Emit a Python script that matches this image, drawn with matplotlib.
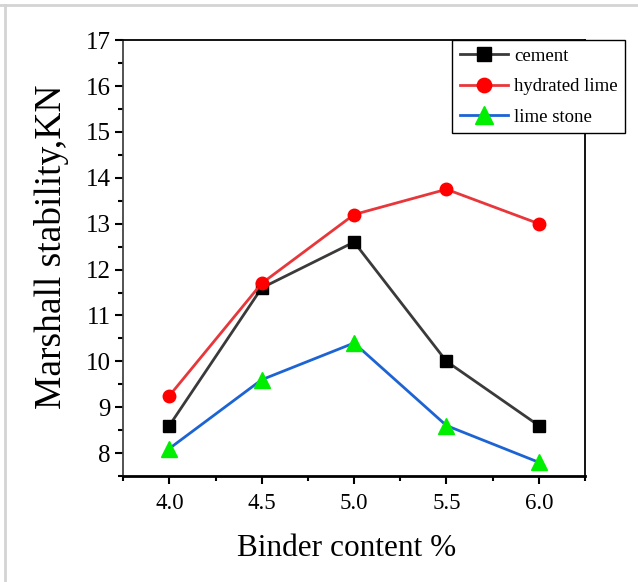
import matplotlib
matplotlib.use("Agg")
import matplotlib.pyplot as plt
from matplotlib.lines import Line2D
from matplotlib.ticker import MultipleLocator

binder = [4.0, 4.5, 5.0, 5.5, 6.0]
cement = [8.6, 11.6, 12.6, 10.0, 8.6]
hydrated_lime = [9.25, 11.7, 13.2, 13.75, 13.0]
lime_stone = [8.1, 9.6, 10.4, 8.6, 7.8]

plt.rcParams["font.family"] = ["Liberation Serif", "DejaVu Serif"]

fig = plt.figure(figsize=(6.38, 5.82), dpi=100)
ax = fig.add_axes([0.193, 0.182, 0.724, 0.749])

ax.plot(binder, cement, color="#3a3a3a", lw=2.0, marker="s", ms=9,
        mfc="black", mec="black", label="cement")
ax.plot(binder, hydrated_lime, color="#e8373a", lw=2.0, marker="o", ms=9,
        mfc="#ff0000", mec="#ff0000", label="hydrated lime")
ax.plot(binder, lime_stone, color="#1c64d4", lw=2.0, marker="^", ms=11,
        mfc="#00ee00", mec="#00ee00", label="lime stone")

ax.set_xlim(3.75, 6.25)
ax.set_ylim(7.5, 17)
ax.xaxis.set_minor_locator(MultipleLocator(0.25))
ax.yaxis.set_major_locator(MultipleLocator(1))
ax.yaxis.set_minor_locator(MultipleLocator(0.5))
ax.set_xticks(binder)
ax.set_xticklabels([f"{v:.1f}" for v in binder])

ax.tick_params(which="major", direction="out", length=6, width=1.5)
ax.tick_params(which="minor", direction="out", length=3.5, width=1.5)
ax.tick_params(axis="y", labelsize=18, pad=3)
ax.tick_params(axis="x", labelsize=16.5, pad=6)
for side in ["left", "right", "top"]:
    ax.spines[side].set_linewidth(1.3)
ax.spines["bottom"].set_linewidth(2.0)
ax.spines["left"].set_color("#444444")

ax.set_ylabel("Marshall stability,KN", fontsize=27)
ax.yaxis.set_label_coords(-0.118, 0.525)
ax.set_xlabel("Binder content %", fontsize=22.5)
ax.xaxis.set_label_coords(0.483, -0.132)

leg = ax.legend(loc="upper left", bbox_to_anchor=(452 / 638, 1 - 40 / 582),
                bbox_transform=fig.transFigure, fontsize=13.5, frameon=True,
                fancybox=False, handlelength=2.6, handletextpad=0.3,
                labelspacing=0.72, borderpad=0.4, borderaxespad=0,
                markerscale=1.15)
leg.get_frame().set_edgecolor("black")
leg.get_frame().set_linewidth(1.0)
leg.get_frame().set_alpha(1)

# light frame along the top and left edges
fig.add_artist(Line2D([0, 1], [1 - 5 / 582, 1 - 5 / 582], transform=fig.transFigure,
                      color="#d4d4d4", lw=2))
fig.add_artist(Line2D([5 / 638, 5 / 638], [0, 1 - 5 / 582], transform=fig.transFigure,
                      color="#d4d4d4", lw=2))

fig.savefig("out.png", dpi=100)
